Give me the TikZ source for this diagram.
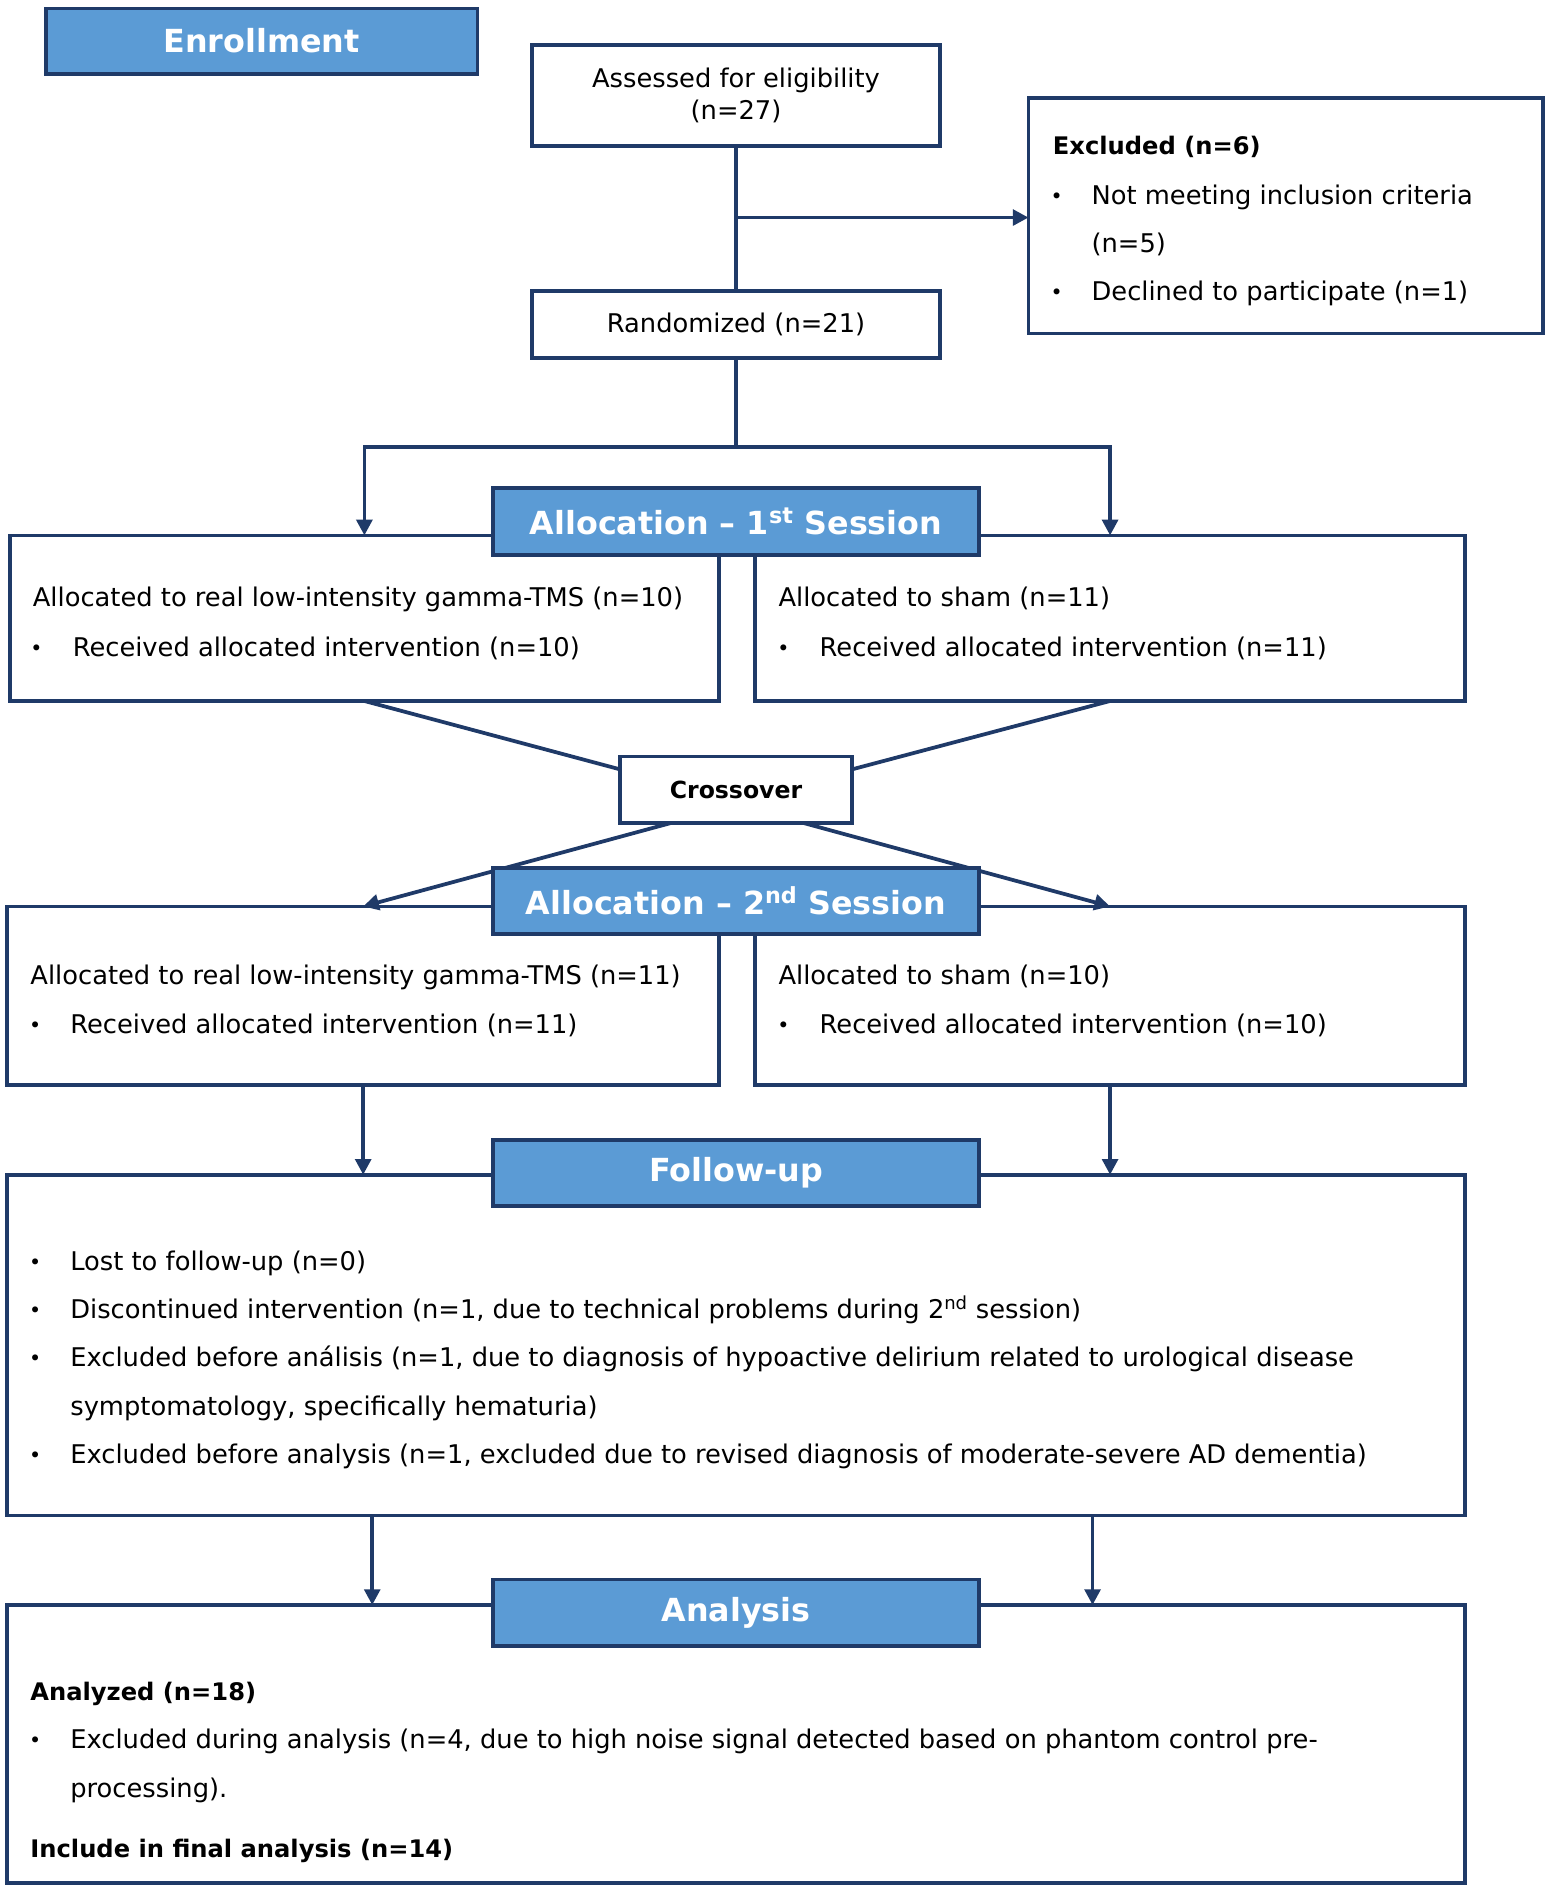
\documentclass[tikz,border=0pt]{standalone}
\usepackage{fontspec}
\setmainfont{DejaVu Sans}
\usetikzlibrary{arrows.meta,calc}
\definecolor{navy}{HTML}{1F3A68}
\definecolor{bannerblue}{HTML}{5B9BD5}
\begin{document}
\begin{tikzpicture}[x=1pt,y=-1pt,
 box/.style={draw=navy,line width=3.1pt,fill=white,rectangle,inner sep=0pt,outer sep=0pt,anchor=north west},
 bannerbox/.style={draw=navy,line width=3.1pt,fill=bannerblue,rectangle,inner sep=0pt,outer sep=0pt,anchor=north west,text=white,font=\fontsize{26.3}{32}\selectfont\bfseries},
 conn/.style={draw=navy,line width=3.1pt},
 arr/.style={conn,-{Triangle[length=13pt,width=13pt]}},
 txt/.style={anchor=base west,inner sep=0pt,font=\fontsize{21.3}{25}\selectfont},
 btxt/.style={anchor=base west,inner sep=0pt,font=\fontsize{20}{24}\selectfont\bfseries},
 bul/.style={anchor=base west,inner sep=0pt,font=\fontsize{17}{20}\selectfont},
]
\useasboundingbox (0,0) rectangle (1280,1563);
\fill[white] (0,0) rectangle (1280,1563);

% boxes
\node[box,minimum width=338pt,minimum height=84pt,align=center,font=\fontsize{21.3}{26}\selectfont] (assess) at (440,37) {Assessed for eligibility\\(n=27)};
\node[box,minimum width=426pt,minimum height=195pt] (excl) at (851,81) {};
\node[box,minimum width=338pt,minimum height=55pt,font=\fontsize{21.3}{25}\selectfont] (rand) at (440,241) {Randomized (n=21)};
\node[box,minimum width=587pt,minimum height=137pt] (b1L) at (8,443) {};
\node[box,minimum width=587pt,minimum height=137pt] (b1R) at (625,443) {};
\node[box,minimum width=192pt,minimum height=55pt,font=\fontsize{19.5}{24}\selectfont\bfseries] (cross) at (513,626) {Crossover};
\node[box,minimum width=589pt,minimum height=148pt] (b2L) at (6,750) {};
\node[box,minimum width=587pt,minimum height=148pt] (b2R) at (625,750) {};
\node[box,minimum width=1206pt,minimum height=282pt] (fu) at (6,972) {};
\node[box,minimum width=1206pt,minimum height=230pt] (an) at (6,1328) {};

% connectors
\draw[conn] (assess.south) -- (rand.north);
\coordinate (j1) at ($(assess.south)+(0,59)$);
\draw[arr] (j1) -- (j1 -| excl.west);
\coordinate (s0) at ($(rand.south)+(0,74)$);
\draw[conn] (rand.south) -- (s0);
\draw[arr] (s0) -| (b1L.north);
\draw[arr] (s0) -| (b1R.north);
\draw[conn] (b1L.south) -- (cross.170);
\draw[conn] (b1R.south) -- (cross.10);
\coordinate (cL) at ($(cross.south)+(-54,0)$);
\coordinate (cR) at ($(cross.south)+(56,0)$);
\draw[arr] (cL) -- (b2L.north);
\draw[arr] (cR) -- (b2R.north);
\draw[arr] (b2L.south) -- (b2L.south |- fu.north);
\draw[arr] (b2R.south) -- (b2R.south |- fu.north);
\coordinate (fL) at ($(fu.south west)+(302,0)$);
\coordinate (fR) at ($(fu.south west)+(898,0)$);
\draw[arr] (fL) -- (fL |- an.north);
\draw[arr] (fR) -- (fR |- an.north);

% banners
\node[bannerbox,minimum width=357pt,minimum height=54pt] (enroll) at (38,7) {Enrollment};
\node[bannerbox,minimum width=402pt,minimum height=55pt] (alloc1) at (408,404) {Allocation – 1\textsuperscript{st} Session};
\node[bannerbox,minimum width=402pt,minimum height=55pt] (alloc2) at (408,718) {Allocation – 2\textsuperscript{nd} Session};
\node[bannerbox,minimum width=402pt,minimum height=55pt] (follow) at (408,943) {Follow-up};
\node[bannerbox,minimum width=402pt,minimum height=55pt] (analysis) at (408,1307) {Analysis};

% excluded text
\node[btxt] (ex0) at (871,128) {Excluded (n=6)};
\node[bul] (exb1) at (869,168) {•};
\node[txt] (ex1) at (903,169) {Not meeting inclusion criteria};
\node[txt] (ex2) at (903,209) {(n=5)};
\node[bul] (exb2) at (869,248) {•};
\node[txt] (ex3) at (903,249) {Declined to participate (n=1)};

% allocation 1
\node[txt] (l1a) at (27,502) {Allocated to real low-intensity gamma-TMS (n=10)};
\node[bul] (l1b) at (25,542) {•};
\node[txt] (l1c) at (60,543) {Received allocated intervention (n=10)};
\node[txt] (r1a) at (644,502) {Allocated to sham (n=11)};
\node[bul] (r1b) at (643,542) {•};
\node[txt] (r1c) at (678,543) {Received allocated intervention (n=11)};

% allocation 2
\node[txt] (l2a) at (25,815) {Allocated to real low-intensity gamma-TMS (n=11)};
\node[bul] (l2b) at (24,854) {•};
\node[txt] (l2c) at (58,855) {Received allocated intervention (n=11)};
\node[txt] (r2a) at (644,815) {Allocated to sham (n=10)};
\node[bul] (r2b) at (643,854) {•};
\node[txt] (r2c) at (678,855) {Received allocated intervention (n=10)};

% follow-up
\node[bul] (fb1) at (24,1050) {•};
\node[txt] (f1) at (58,1051) {Lost to follow-up (n=0)};
\node[bul] (fb2) at (24,1090) {•};
\node[txt] (f2) at (58,1091) {Discontinued intervention (n=1, due to technical problems during 2\textsuperscript{nd} session)};
\node[bul] (fb3) at (24,1130) {•};
\node[txt] (f3) at (58,1131) {Excluded before análisis (n=1, due to diagnosis of hypoactive delirium related to urological disease};
\node[txt] (f4) at (58,1171) {symptomatology, specifically hematuria)};
\node[bul] (fb5) at (24,1210) {•};
\node[txt] (f5) at (58,1211) {Excluded before analysis (n=1, excluded due to revised diagnosis of moderate-severe AD dementia)};

% analysis
\node[btxt] (a1) at (25,1407) {Analyzed (n=18)};
\node[bul] (ab2) at (24,1446) {•};
\node[txt] (a2) at (58,1447) {Excluded during analysis (n=4, due to high noise signal detected based on phantom control pre-};
\node[txt] (a3) at (58,1487) {processing).};
\node[btxt] (a4) at (25,1537) {Include in final analysis (n=14)};
\end{tikzpicture}
\end{document}
